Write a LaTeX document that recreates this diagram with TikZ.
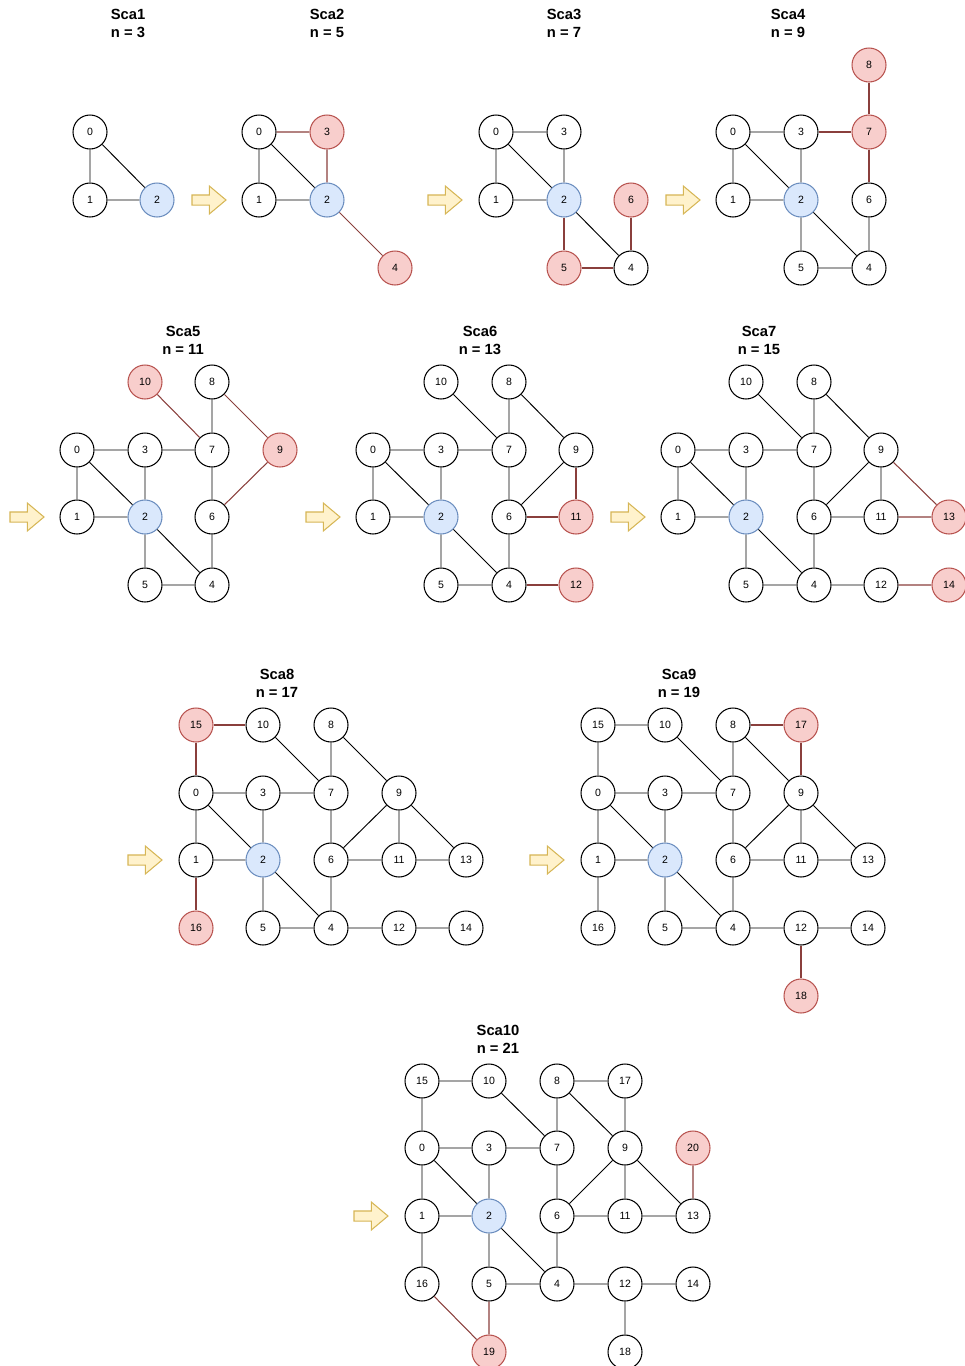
\documentclass[tikz,border=0pt]{standalone}
\usepackage{fontspec}
\setmainfont{Liberation Sans}
\usepackage{tikz}
\usetikzlibrary{shapes.arrows}

\definecolor{redfill}{HTML}{F8CECC}
\definecolor{redline}{HTML}{B85450}
\definecolor{bluefill}{HTML}{DAE8FC}
\definecolor{blueline}{HTML}{6C8EBF}
\definecolor{arrfill}{HTML}{FFF2CC}
\definecolor{arrline}{HTML}{D6B656}

\begin{document}
\begin{tikzpicture}[
  x=0.02cm, y=-0.02cm,
  ttl/.style={font=\fontsize{8.4}{10.3}\selectfont\bfseries, align=center, inner sep=0pt},
  wv/.style={circle, draw=black, line width=0.6pt, fill=white, minimum size=0.68cm, inner sep=0pt, font=\fontsize{6}{7}\selectfont},
  redv/.style={wv, draw=redline, fill=redfill},
  bluev/.style={wv, draw=blueline, fill=bluefill},
  blackedge/.style={draw=black, line width=0.55pt},
  rededge/.style={draw=redline!75!black, line width=0.6pt},
  arr/.style={single arrow, draw=arrline, fill=arrfill, line width=0.6pt, minimum height=0.68cm,
    inner xsep=0pt, inner ysep=0.09cm, single arrow head extend=0.18cm, single arrow tip angle=80}
]
\useasboundingbox (0,0) rectangle (964,1366);

% Sca1
\node[ttl] (ta) at (128,23) {Sca1\\n = 3};
\node[wv] (a0) at (90,132) {0};
\node[wv] (a1) at (90,200) {1};
\node[bluev] (a2) at (157,200) {2};
\draw[blackedge] (a0) -- (a1) (a0) -- (a2) (a1) -- (a2);
\node[arr] (ar1) at (206,200) {};

% Sca2
\node[ttl] (tb) at (327,23) {Sca2\\n = 5};
\node[wv] (b0) at (259,132) {0};
\node[redv] (b3) at (327,132) {3};
\node[wv] (b1) at (259,200) {1};
\node[bluev] (b2) at (327,200) {2};
\node[redv] (b4) at (395,268) {4};
\draw[blackedge] (b0) -- (b1) (b0) -- (b2) (b1) -- (b2);
\draw[rededge] (b0) -- (b3) (b3) -- (b2) (b2) -- (b4);
\node[arr] (ar2) at (442,200) {};

% Sca3
\node[ttl] (tc) at (564,23) {Sca3\\n = 7};
\node[wv] (c0) at (496,132) {0};
\node[wv] (c3) at (564,132) {3};
\node[wv] (c1) at (496,200) {1};
\node[bluev] (c2) at (564,200) {2};
\node[redv] (c6) at (631,200) {6};
\node[redv] (c5) at (564,268) {5};
\node[wv] (c4) at (631,268) {4};
\draw[blackedge] (c0) -- (c3) (c0) -- (c1) (c0) -- (c2) (c3) -- (c2) (c1) -- (c2) (c2) -- (c4);
\draw[rededge] (c2) -- (c5) (c5) -- (c4) (c6) -- (c4);
\node[arr] (ar3) at (680,200) {};

% Sca4
\node[ttl] (td) at (788,23) {Sca4\\n = 9};
\node[redv] (d8) at (869,65) {8};
\node[wv] (d0) at (733,132) {0};
\node[wv] (d3) at (801,132) {3};
\node[redv] (d7) at (869,132) {7};
\node[wv] (d1) at (733,200) {1};
\node[bluev] (d2) at (801,200) {2};
\node[wv] (d6) at (869,200) {6};
\node[wv] (d5) at (801,268) {5};
\node[wv] (d4) at (869,268) {4};
\draw[blackedge] (d0) -- (d3) (d0) -- (d1) (d0) -- (d2) (d3) -- (d2) (d1) -- (d2) (d2) -- (d5)
  (d2) -- (d4) (d5) -- (d4) (d6) -- (d4);
\draw[rededge] (d3) -- (d7) (d7) -- (d8) (d7) -- (d6);

% Sca5
\node[arr] (ar4) at (24,517) {};
\node[ttl] (te) at (183,340) {Sca5\\n = 11};
\node[redv] (e10) at (145,382) {10};
\node[wv] (e8) at (212,382) {8};
\node[wv] (e0) at (77,450) {0};
\node[wv] (e3) at (145,450) {3};
\node[wv] (e7) at (212,450) {7};
\node[redv] (e9) at (280,450) {9};
\node[wv] (e1) at (77,517) {1};
\node[bluev] (e2) at (145,517) {2};
\node[wv] (e6) at (212,517) {6};
\node[wv] (e5) at (145,585) {5};
\node[wv] (e4) at (212,585) {4};
\draw[blackedge] (e0) -- (e3) (e3) -- (e7) (e8) -- (e7) (e0) -- (e1) (e0) -- (e2) (e3) -- (e2)
  (e7) -- (e6) (e1) -- (e2) (e2) -- (e5) (e2) -- (e4) (e6) -- (e4) (e5) -- (e4);
\draw[rededge] (e10) -- (e7) (e8) -- (e9) (e9) -- (e6);

% Sca6
\node[arr] (ar5) at (320,517) {};
\node[ttl] (tf) at (480,340) {Sca6\\n = 13};
\node[wv] (f10) at (441,382) {10};
\node[wv] (f8) at (509,382) {8};
\node[wv] (f0) at (373,450) {0};
\node[wv] (f3) at (441,450) {3};
\node[wv] (f7) at (509,450) {7};
\node[wv] (f9) at (576,450) {9};
\node[wv] (f1) at (373,517) {1};
\node[bluev] (f2) at (441,517) {2};
\node[wv] (f6) at (509,517) {6};
\node[redv] (f11) at (576,517) {11};
\node[wv] (f5) at (441,585) {5};
\node[wv] (f4) at (509,585) {4};
\node[redv] (f12) at (576,585) {12};
\draw[blackedge] (f10) -- (f7) (f8) -- (f7) (f8) -- (f9) (f0) -- (f3) (f3) -- (f7) (f0) -- (f1)
  (f0) -- (f2) (f3) -- (f2) (f7) -- (f6) (f9) -- (f6) (f1) -- (f2) (f2) -- (f5) (f2) -- (f4)
  (f6) -- (f4) (f5) -- (f4);
\draw[rededge] (f9) -- (f11) (f6) -- (f11) (f4) -- (f12);

% Sca7
\node[arr] (ar6) at (625,517) {};
\node[ttl] (tg) at (759,340) {Sca7\\n = 15};
\node[wv] (g10) at (746,382) {10};
\node[wv] (g8) at (814,382) {8};
\node[wv] (g0) at (678,450) {0};
\node[wv] (g3) at (746,450) {3};
\node[wv] (g7) at (814,450) {7};
\node[wv] (g9) at (881,450) {9};
\node[wv] (g1) at (678,517) {1};
\node[bluev] (g2) at (746,517) {2};
\node[wv] (g6) at (814,517) {6};
\node[wv] (g11) at (881,517) {11};
\node[redv] (g13) at (949,517) {13};
\node[wv] (g5) at (746,585) {5};
\node[wv] (g4) at (814,585) {4};
\node[wv] (g12) at (881,585) {12};
\node[redv] (g14) at (949,585) {14};
\draw[blackedge] (g10) -- (g7) (g8) -- (g7) (g8) -- (g9) (g0) -- (g3) (g3) -- (g7) (g0) -- (g1)
  (g0) -- (g2) (g3) -- (g2) (g7) -- (g6) (g9) -- (g6) (g9) -- (g11) (g6) -- (g11) (g1) -- (g2)
  (g2) -- (g5) (g2) -- (g4) (g6) -- (g4) (g5) -- (g4) (g4) -- (g12);
\draw[rededge] (g9) -- (g13) (g11) -- (g13) (g12) -- (g14);

% Sca8
\node[arr] (ar7) at (142,860) {};
\node[ttl] (th) at (277,683) {Sca8\\n = 17};
\node[redv] (h15) at (196,725) {15};
\node[wv] (h10) at (263,725) {10};
\node[wv] (h8) at (331,725) {8};
\node[wv] (h0) at (196,793) {0};
\node[wv] (h3) at (263,793) {3};
\node[wv] (h7) at (331,793) {7};
\node[wv] (h9) at (399,793) {9};
\node[wv] (h1) at (196,860) {1};
\node[bluev] (h2) at (263,860) {2};
\node[wv] (h6) at (331,860) {6};
\node[wv] (h11) at (399,860) {11};
\node[wv] (h13) at (466,860) {13};
\node[redv] (h16) at (196,928) {16};
\node[wv] (h5) at (263,928) {5};
\node[wv] (h4) at (331,928) {4};
\node[wv] (h12) at (399,928) {12};
\node[wv] (h14) at (466,928) {14};
\draw[blackedge] (h10) -- (h7) (h8) -- (h7) (h8) -- (h9) (h0) -- (h3) (h3) -- (h7) (h0) -- (h1)
  (h0) -- (h2) (h3) -- (h2) (h7) -- (h6) (h9) -- (h6) (h9) -- (h11) (h9) -- (h13) (h6) -- (h11)
  (h11) -- (h13) (h1) -- (h2) (h2) -- (h5) (h2) -- (h4) (h6) -- (h4) (h5) -- (h4) (h4) -- (h12)
  (h12) -- (h14);
\draw[rededge] (h15) -- (h10) (h15) -- (h0) (h1) -- (h16);

% Sca9
\node[arr] (ar8) at (544,860) {};
\node[ttl] (ti) at (679,683) {Sca9\\n = 19};
\node[wv] (i15) at (598,725) {15};
\node[wv] (i10) at (665,725) {10};
\node[wv] (i8) at (733,725) {8};
\node[redv] (i17) at (801,725) {17};
\node[wv] (i0) at (598,793) {0};
\node[wv] (i3) at (665,793) {3};
\node[wv] (i7) at (733,793) {7};
\node[wv] (i9) at (801,793) {9};
\node[wv] (i1) at (598,860) {1};
\node[bluev] (i2) at (665,860) {2};
\node[wv] (i6) at (733,860) {6};
\node[wv] (i11) at (801,860) {11};
\node[wv] (i13) at (868,860) {13};
\node[wv] (i16) at (598,928) {16};
\node[wv] (i5) at (665,928) {5};
\node[wv] (i4) at (733,928) {4};
\node[wv] (i12) at (801,928) {12};
\node[wv] (i14) at (868,928) {14};
\node[redv] (i18) at (801,996) {18};
\draw[blackedge] (i15) -- (i10) (i15) -- (i0) (i10) -- (i7) (i8) -- (i7) (i8) -- (i9) (i0) -- (i3)
  (i3) -- (i7) (i0) -- (i1) (i0) -- (i2) (i3) -- (i2) (i7) -- (i6) (i9) -- (i6) (i9) -- (i11)
  (i9) -- (i13) (i6) -- (i11) (i11) -- (i13) (i1) -- (i2) (i1) -- (i16) (i2) -- (i5) (i2) -- (i4)
  (i6) -- (i4) (i5) -- (i4) (i4) -- (i12) (i12) -- (i14);
\draw[rededge] (i8) -- (i17) (i17) -- (i9) (i12) -- (i18);

% Sca10
\node[arr] (ar9) at (368,1216) {};
\node[ttl] (tj) at (498,1039) {Sca10\\n = 21};
\node[wv] (j15) at (422,1081) {15};
\node[wv] (j10) at (489,1081) {10};
\node[wv] (j8) at (557,1081) {8};
\node[wv] (j17) at (625,1081) {17};
\node[wv] (j0) at (422,1148) {0};
\node[wv] (j3) at (489,1148) {3};
\node[wv] (j7) at (557,1148) {7};
\node[wv] (j9) at (625,1148) {9};
\node[redv] (j20) at (693,1148) {20};
\node[wv] (j1) at (422,1216) {1};
\node[bluev] (j2) at (489,1216) {2};
\node[wv] (j6) at (557,1216) {6};
\node[wv] (j11) at (625,1216) {11};
\node[wv] (j13) at (693,1216) {13};
\node[wv] (j16) at (422,1284) {16};
\node[wv] (j5) at (489,1284) {5};
\node[wv] (j4) at (557,1284) {4};
\node[wv] (j12) at (625,1284) {12};
\node[wv] (j14) at (693,1284) {14};
\node[redv] (j19) at (489,1352) {19};
\node[wv] (j18) at (625,1352) {18};
\draw[blackedge] (j15) -- (j10) (j15) -- (j0) (j10) -- (j7) (j8) -- (j7) (j8) -- (j17) (j17) -- (j9)
  (j8) -- (j9) (j0) -- (j3) (j3) -- (j7) (j0) -- (j1) (j0) -- (j2) (j3) -- (j2) (j7) -- (j6)
  (j9) -- (j6) (j9) -- (j11) (j9) -- (j13) (j6) -- (j11) (j11) -- (j13) (j1) -- (j2) (j1) -- (j16)
  (j2) -- (j5) (j2) -- (j4) (j6) -- (j4) (j5) -- (j4) (j4) -- (j12) (j12) -- (j14) (j12) -- (j18);
\draw[rededge] (j20) -- (j13) (j16) -- (j19) (j5) -- (j19);

\end{tikzpicture}
\end{document}
